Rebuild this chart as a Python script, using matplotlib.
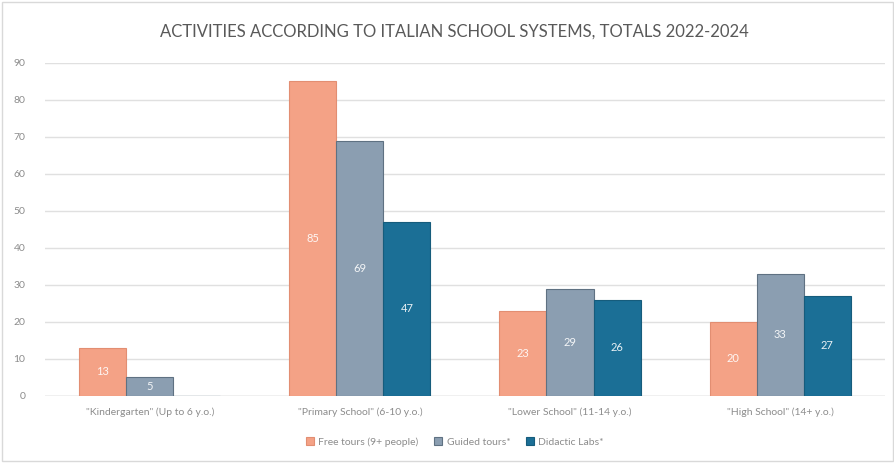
import matplotlib

matplotlib.use("Agg")
import matplotlib.pyplot as plt
import numpy as np

plt.rcParams["font.family"] = ["Lato", "DejaVu Sans"]

# ── 数据 ──────────────────────────────────────────────────────────────────
CATEGORIES = [
    '"Kindergarten" (Up to 6 y.o.)',
    '"Primary School" (6-10 y.o.)',
    '"Lower School" (11-14 y.o.)',
    '"High School" (14+ y.o.)',
]
FREE_TOURS = [13, 85, 23, 20]
GUIDED_TOURS = [5, 69, 29, 33]
DIDACTIC_LABS = [0, 47, 26, 27]

SERIES = [
    ("Free tours (9+ people)", FREE_TOURS, "#F4A286", "#E28E72"),
    ("Guided tours*", GUIDED_TOURS, "#8B9EB1", "#5F7182"),
    ("Didactic Labs*", DIDACTIC_LABS, "#1B6F96", "#165C7C"),
]

TITLE = "ACTIVITIES ACCORDING TO ITALIAN SCHOOL SYSTEMS, TOTALS 2022-2024"

fig = plt.figure(figsize=(8.95, 4.63), dpi=100)
ax = fig.add_axes([0.050, 0.145, 0.939, 0.719])

x = np.arange(len(CATEGORIES))
width = 0.224
for i, (name, vals, color, edge) in enumerate(SERIES):
    pos = x + (i - 1) * width
    bars = ax.bar(pos, vals, width, color=color, edgecolor=edge,
                  linewidth=0.8, label=name, zorder=3)
    for b, v in zip(bars, vals):
        if v <= 0:
            continue
        ax.text(b.get_x() + b.get_width() / 2, v / 2, str(v),
                ha="center", va="center", color="white", fontsize=8,
                alpha=0.9, zorder=4)

ax.set_xlim(-0.5, len(CATEGORIES) - 0.5)
ax.set_ylim(0, 90)
ax.set_yticks(range(0, 91, 10))
ax.set_xticks(x)
ax.set_xticklabels(CATEGORIES)
ax.tick_params(axis="both", length=0, colors="#8C8C8C", labelsize=7.5)
ax.tick_params(axis="x", pad=8)
ax.tick_params(axis="y", pad=14)
ax.grid(axis="y", color="#E0E0E0", linewidth=1, zorder=0)
for s in ax.spines.values():
    s.set_visible(False)
ax.axhline(0, color="#D0D0D0", linewidth=1, zorder=2)

fig.text(0.508, 0.932, TITLE, ha="center", va="center",
         fontsize=12, color="#595959")

ax.legend(loc="center", bbox_to_anchor=(0.488, -0.138), ncol=3,
          frameon=False, fontsize=7.5, labelcolor="#8C8C8C",
          handlelength=0.8, handleheight=0.8, handletextpad=0.4,
          columnspacing=1.5)

# 外框
fig.patches.append(plt.Rectangle((0.002, 0.004), 0.996, 0.992,
                                 transform=fig.transFigure, fill=False,
                                 edgecolor="#D9D9D9", linewidth=1))

fig.savefig("out.png", dpi=100)
